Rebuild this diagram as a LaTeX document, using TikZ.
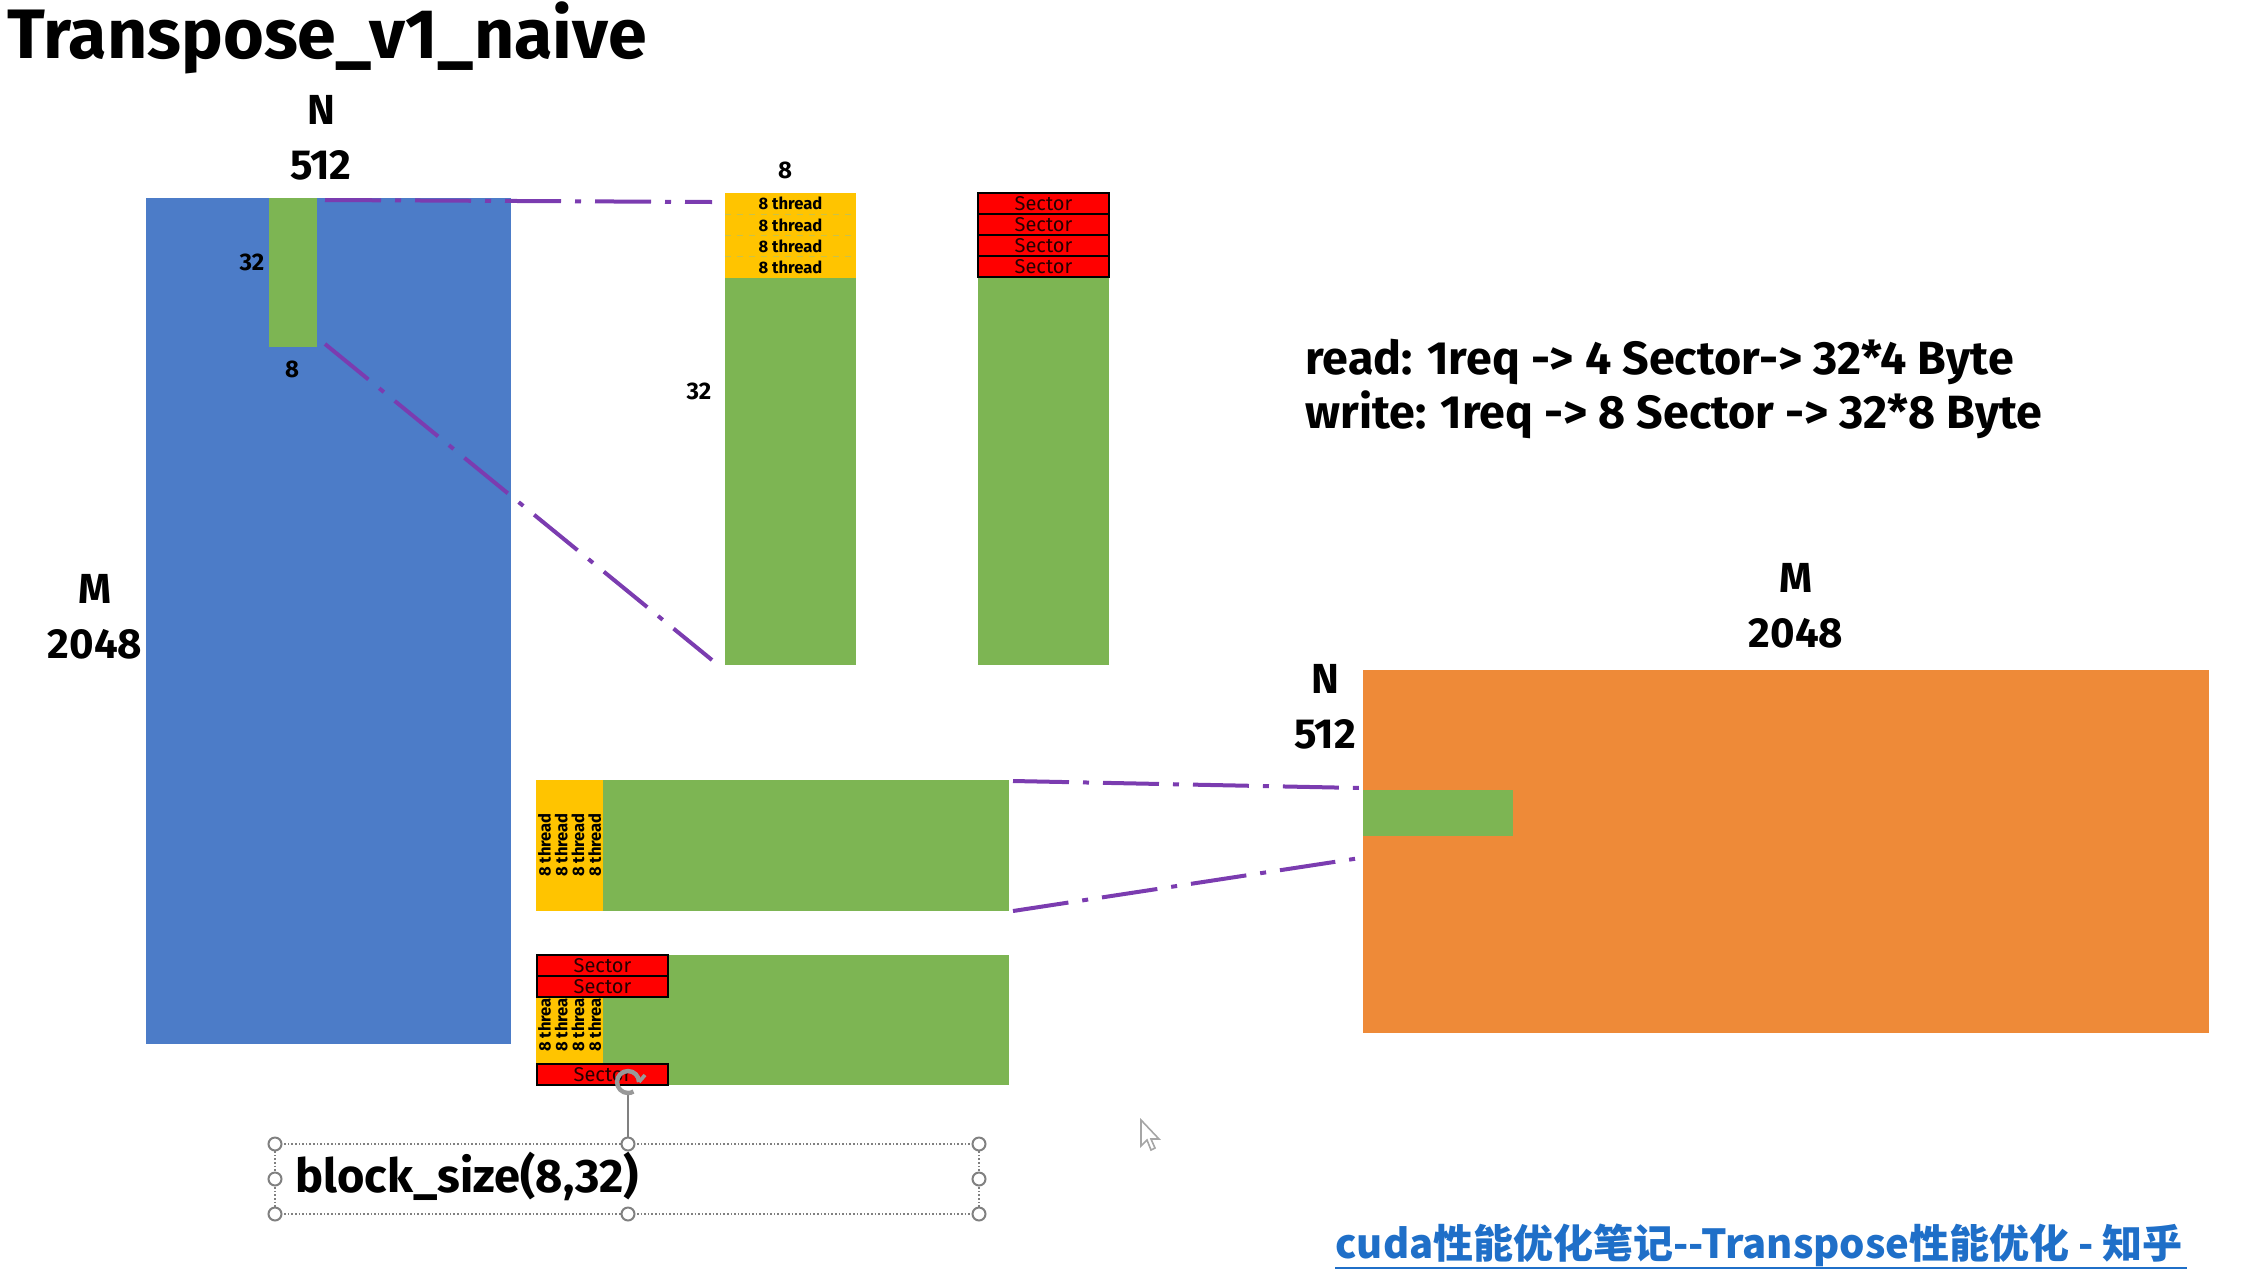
\documentclass[tikz,border=0pt]{standalone}
\usepackage{fontspec}
\setmainfont{Fira Sans}
\newfontfamily\cjk{Noto Sans CJK SC}
\usetikzlibrary{fit,calc}
\definecolor{blueA}{HTML}{4C7CC8}
\definecolor{greenA}{HTML}{7DB553}
\definecolor{yellowA}{HTML}{FFC400}
\definecolor{redA}{HTML}{FF0000}
\definecolor{orangeA}{HTML}{EE8A38}
\definecolor{purpA}{HTML}{7B3CB0}
\definecolor{linkA}{HTML}{1F6FC8}
\definecolor{sepA}{HTML}{C9C24A}
\tikzset{
  blk/.style={inner sep=0pt, outer sep=0pt, draw=none},
  purp/.style={draw=purpA, line width=2pt, dash pattern=on 28pt off 7pt on 3pt off 7pt},
  lab/.style={font=\fontsize{21}{27.5}\selectfont\bfseries, align=center, inner sep=0pt},
  smalllab/.style={font=\fontsize{12}{14}\selectfont\bfseries, inner sep=0pt},
  thr/.style={font=\fontsize{8.3}{9}\selectfont\bfseries, inner sep=0pt},
  sect/.style={blk, fill=redA, draw=black, line width=0.6pt},
  secttxt/.style={font=\fontsize{10}{10}\selectfont, inner sep=0pt, text=black!85!red},
  handle/.style={circle, draw=gray, fill=white, line width=1pt, minimum size=6.5pt, inner sep=0pt}
}
\begin{document}
\begin{tikzpicture}[x=0.5pt,y=-0.5pt]
\useasboundingbox (0,0) rectangle (2268,1286);

% title
\node[anchor=west, inner sep=0pt, font=\fontsize{35}{38}\selectfont\bfseries] (title) at (7,38) {Transpose\_v1\_naive};

% left matrix A
\node[blk, fill=blueA, fit={(146,198)(511,1044)}] (A) {};
\node[blk, fill=greenA, fit={(269,198)(317,347)}] (tileA) {};
\node[lab] (An) at (321,138) {N\\512};
\node[lab] (Am) at (95,617) {M\\2048};
\node[smalllab] (t32) at (252,262) {32};
\node[smalllab] (t8) at (292,369) {8};

% column 1 (read)
\node[blk, fill=greenA, fit={(725,193)(856,665)}] (col1) {};
\foreach \i in {0,1,2,3}{
  \node[blk, fill=yellowA, fit={(725,{193+21.25*\i})(856,{193+21.25*(\i+1)})}] (y\i) {};
  \node[thr] at (y\i) {8 thread};
}
\foreach \i in {0,1,2}{
  \draw[sepA, dashed, line width=0.5pt] (y\i.south west) -- (y\i.south east);
}
\node[smalllab] (c8) at (785,170) {8};
\node[smalllab] (c32) at (699,391) {32};

% column 2 (sectors)
\node[blk, fill=greenA, fit={(978,193)(1109,665)}] (col2) {};
\foreach \i in {0,1,2,3}{
  \node[sect, fit={(978,{193+21*\i})(1109,{193+21*(\i+1)})}] (s\i) {};
  \node[secttxt] at (s\i) {Sector};
}

% row block 1
\node[blk, fill=greenA, fit={(536,780)(1009,911)}] (r1) {};
\node[blk, fill=yellowA, fit={(536,780)(603,911)}] (r1y) {};
\foreach \i in {0,1,2,3}{
  \node[thr, rotate=90] at ({544.5+16.75*\i},845) {8 thread};
}

% row block 2
\node[blk, fill=greenA, fit={(536,955)(1009,1085)}] (r2) {};
\node[blk, fill=yellowA, fit={(536,955)(603,1085)}] (r2y) {};
\foreach \i in {0,1,2,3}{
  \node[thr, rotate=90] at ({544.5+16.75*\i},1020) {8 thread};
}
\node[sect, fit={(537,955)(668,976)}] (q1) {};
\node[secttxt] at (q1) {Sector};
\node[sect, fit={(537,976)(668,997)}] (q2) {};
\node[secttxt] at (q2) {Sector};
\node[sect, fit={(537,1064)(668,1085)}] (q3) {};
\node[secttxt] at (q3) {Sector};

% right matrix B
\node[blk, fill=orangeA, fit={(1363,670)(2209,1033)}] (B) {};
\node[blk, fill=greenA, fit={(1363,790)(1513,836)}] (tileB) {};
\node[lab] (Bm) at (1796,606) {M\\2048};
\node[lab] (Bn) at (1325,707) {N\\512};

% purple connectors
\draw[purp] ($(tileA.north east)+(8,2)$) -- ($(col1.north west)+(-13,9)$);
\draw[purp] ($(tileA.south east)+(8,-3)$) -- ($(col1.south west)+(-13,-5)$);
\draw[purp] ($(r1.north east)+(4,1)$) -- ($(tileB.north west)+(-3,-2)$);
\draw[purp] ($(r1.south east)+(4,0)$) -- ($(tileB.south west)+(-3,22)$);

% read / write text
\node[anchor=west, inner sep=0pt, font=\fontsize{23.3}{26}\selectfont\bfseries] (rd) at (1305,362) {read: 1req -> 4 Sector-> 32*4 Byte};
\node[anchor=west, inner sep=0pt, font=\fontsize{23.3}{26}\selectfont\bfseries] (wr) at (1305,415) {write: 1req -> 8 Sector -> 32*8 Byte};

% selection box with block_size
\draw[gray, densely dotted, line width=0.8pt] (275,1144) rectangle (979,1214);
\coordinate (rot) at (628,1082);
\draw[gray, line width=1pt] (628,1094) -- (628,1144);
\foreach \p/\n in {{275,1144}/h1,{628,1144}/h2,{979,1144}/h3,{275,1179}/h4,{979,1179}/h5,{275,1214}/h6,{628,1214}/h7,{979,1214}/h8}{
  \node[handle] (\n) at (\p) {};
}
\draw[gray!80, line width=2.2pt] ($(rot)+(11,0)$) arc[start angle=0, end angle=300, radius=5.5pt];
\draw[gray!80, line width=1.8pt] ($(rot)+(11,0)$) -- ++(6,-7);
\node[anchor=west, inner sep=0pt, font=\fontsize{23.5}{28}\selectfont\bfseries] (bs) at (295,1176) {block\_size(8,32)};

% mouse cursor
\draw[gray!70, fill=white, line width=0.8pt] (1141,1120) -- (1141,1146) -- (1147,1140) -- (1151,1150) -- (1155,1148) -- (1151,1139) -- (1159,1139) -- cycle;

% link
\node[anchor=west, inner sep=0pt, text=linkA, font=\cjk\fontsize{20}{24}\selectfont\bfseries] (link) at (1335,1245) {cuda性能优化笔记--Transpose性能优化 - 知乎};
\draw[linkA, line width=1.2pt] (1335,1268) -- (2187,1268);
\end{tikzpicture}
\end{document}
